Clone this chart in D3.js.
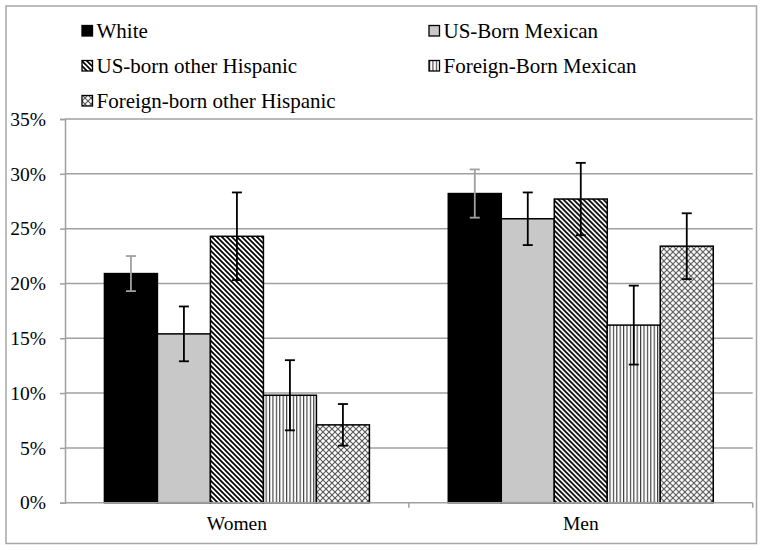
<!DOCTYPE html>
<html>
<head>
<meta charset="utf-8">
<script src="https://cdn.jsdelivr.net/npm/d3@7"></script>
<style>
  html, body { margin: 0; padding: 0; background: #fff; }
  svg { display: block; }
  svg text { font-family: "Liberation Serif", "Times New Roman", "DejaVu Serif", serif !important; fill: #000; }
</style>
</head>
<body>
<svg id="chart" width="762" height="550"></svg>
<script>
// ---- data ----
const categories = ["Women", "Men"];
const series = ["White", "US-Born Mexican", "US-born other Hispanic", "Foreign-Born Mexican", "Foreign-born other Hispanic"];
const women = [0.209, 0.154, 0.243, 0.098, 0.071];
const men = [0.282, 0.259, 0.277, 0.162, 0.234];
const womenErr = [0.016, 0.025, 0.040, 0.032, 0.019];
const menErr = [0.022, 0.024, 0.033, 0.036, 0.030];
const yTicks = [0, 0.05, 0.10, 0.15, 0.20, 0.25, 0.30, 0.35];

const values = { Women: women, Men: men };
const errors = { Women: womenErr, Men: menErr };

const FONT = "'Liberation Serif', 'Times New Roman', 'DejaVu Serif', serif";
const FS = 19.5;
const LFS = 21;

const svg = d3.select("#chart");

// outer frame
svg.append("rect").attr("x", 6).attr("y", 6).attr("width", 750.5).attr("height", 537.5)
  .attr("fill", "#fff").attr("stroke", "#a6a6a6").attr("stroke-width", 1.5);

// patterns
const defs = svg.append("defs");
const pd = defs.append("pattern").attr("id", "pDiag").attr("patternUnits", "userSpaceOnUse")
  .attr("width", 5).attr("height", 5);
pd.append("rect").attr("width", 5).attr("height", 5).attr("fill", "#fff");
pd.append("path").attr("d", "M0,0 L5,5 M-1,4 L1,6 M4,-1 L6,1")
  .attr("stroke", "#000").attr("stroke-width", 1.7);

const pv = defs.append("pattern").attr("id", "pVert").attr("patternUnits", "userSpaceOnUse")
  .attr("width", 3.4).attr("height", 4);
pv.append("rect").attr("width", 3.4).attr("height", 4).attr("fill", "#fff");
pv.append("line").attr("x1", 0.6).attr("x2", 0.6).attr("y1", 0).attr("y2", 4)
  .attr("stroke", "#222").attr("stroke-width", 1);

const pc = defs.append("pattern").attr("id", "pCross").attr("patternUnits", "userSpaceOnUse")
  .attr("width", 6).attr("height", 6);
pc.append("rect").attr("width", 6).attr("height", 6).attr("fill", "#fff");
pc.append("path").attr("d", "M0,0 L6,6 M6,0 L0,6")
  .attr("stroke", "#555").attr("stroke-width", 1.1);

const fills = ["#000", "#c8c8c8", "url(#pDiag)", "url(#pVert)", "url(#pCross)"];
const errColors = ["#a0a0a0", "#000", "#000", "#000", "#000"];

// scales
const plotL = 65, plotR = 752.7, plotT = 119, plotB = 502.7;
const x0 = d3.scaleBand().domain(categories).range([plotL, plotR]).paddingInner(0).paddingOuter(0);
const x1 = d3.scaleBand().domain(series).range([0, x0.bandwidth()]).paddingInner(0).paddingOuter(0.744);
const y = d3.scaleLinear().domain([0, 0.35]).range([plotB, plotT]);

// gridlines
svg.append("g").selectAll("line").data(yTicks.filter(d => d > 0)).join("line")
  .attr("x1", plotL).attr("x2", plotR)
  .attr("y1", d => y(d)).attr("y2", d => y(d))
  .attr("stroke", "#a0a0a0").attr("stroke-width", 1.5);

// y axis
const yAxis = svg.append("g").attr("transform", `translate(${plotL},0)`)
  .call(d3.axisLeft(y).tickValues(yTicks).tickFormat(d => Math.round(d * 100) + "%").tickSize(5).tickPadding(14));
yAxis.attr("font-family", FONT).attr("font-size", FS);
yAxis.select(".domain").attr("stroke", "#a0a0a0").attr("stroke-width", 1.5);
yAxis.selectAll(".tick line").attr("stroke", "#a0a0a0").attr("stroke-width", 1.5);
yAxis.selectAll(".tick text").attr("font-size", FS).attr("font-family", FONT).attr("fill", "#000");

// bars
const groups = svg.append("g").selectAll("g").data(categories).join("g")
  .attr("transform", d => `translate(${x0(d)},0)`);

groups.selectAll("rect").data(c => series.map((s, i) => ({ s, i, v: values[c][i], e: errors[c][i] })))
  .join("rect")
  .attr("x", d => x1(d.s)).attr("width", x1.bandwidth())
  .attr("y", d => y(d.v)).attr("height", d => y(0) - y(d.v))
  .attr("fill", d => fills[d.i]).attr("stroke", "#000").attr("stroke-width", 1.5);

// x axis
svg.append("line").attr("x1", plotL).attr("x2", plotR).attr("y1", plotB).attr("y2", plotB)
  .attr("stroke", "#a0a0a0").attr("stroke-width", 1.5);
const xBounds = [plotL, ...categories.map(c => x0(c) + x0.bandwidth())];
svg.append("g").selectAll("line").data(xBounds.slice(1)).join("line")
  .attr("x1", d => d).attr("x2", d => d).attr("y1", plotB).attr("y2", plotB + 5)
  .attr("stroke", "#a0a0a0").attr("stroke-width", 1.5);
svg.append("g").selectAll("text").data(categories).join("text")
  .attr("x", d => x0(d) + x0.bandwidth() / 2).attr("y", 530)
  .attr("text-anchor", "middle").attr("font-family", FONT).attr("font-size", FS).text(d => d);

// error bars
const eb = groups.selectAll("g.err").data(c => series.map((s, i) => ({ s, i, v: values[c][i], e: errors[c][i] })))
  .join("g").attr("class", "err")
  .attr("stroke", d => errColors[d.i]).attr("stroke-width", 1.8);
const cx = d => x1(d.s) + x1.bandwidth() / 2;
eb.append("line").attr("x1", cx).attr("x2", cx).attr("y1", d => y(d.v + d.e)).attr("y2", d => y(d.v - d.e));
eb.append("line").attr("x1", d => cx(d) - 5).attr("x2", d => cx(d) + 5).attr("y1", d => y(d.v + d.e)).attr("y2", d => y(d.v + d.e));
eb.append("line").attr("x1", d => cx(d) - 5).attr("x2", d => cx(d) + 5).attr("y1", d => y(d.v - d.e)).attr("y2", d => y(d.v - d.e));

// legend
const legendPos = [[82, 31], [429, 31], [82, 66], [429, 66], [82, 101]];
const lg = svg.append("g").selectAll("g").data(series).join("g")
  .attr("transform", (d, i) => `translate(${legendPos[i][0]},${legendPos[i][1]})`);
lg.append("rect").attr("x", 0).attr("y", -5.5).attr("width", 10.5).attr("height", 10.5)
  .attr("fill", (d, i) => fills[i]).attr("stroke", "#000").attr("stroke-width", 1.3);
lg.append("text").attr("x", 14.5).attr("y", 7).attr("font-family", FONT).attr("font-size", LFS).text(d => d);
</script>
</body>
</html>
